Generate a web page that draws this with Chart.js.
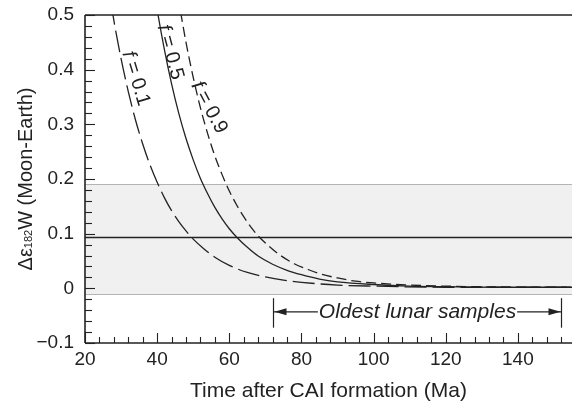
<!DOCTYPE html>
<html>
<head>
<meta charset="utf-8">
<script src="https://cdn.jsdelivr.net/npm/chart.js@4.4.1/dist/chart.umd.min.js"></script>
<style>
  html, body { margin: 0; padding: 0; background: #fff; }
</style>
</head>
<body>
<canvas id="chart" width="572" height="407"></canvas>
<script>
// ── Model curves: time after CAI formation (Ma) vs Δε182W (Moon-Earth) ──
const timeF01 = [26, 28, 30, 32, 34, 36, 38, 40, 42, 44, 46, 48, 50, 53, 56, 60, 65, 70, 75, 80, 90, 100, 120, 155];
const valF01  = [0.573, 0.490, 0.420, 0.360, 0.308, 0.264, 0.226, 0.194, 0.166, 0.142, 0.122, 0.105, 0.090, 0.072, 0.057, 0.042, 0.029, 0.021, 0.015, 0.011, 0.006, 0.004, 0.002, 0.002];

const timeF05 = [38, 40, 42, 44, 46, 48, 50, 52, 54, 56, 58, 60, 62, 65, 68, 72, 76, 80, 85, 90, 100, 110, 120, 135, 155];
const valF05  = [0.596, 0.510, 0.437, 0.374, 0.320, 0.274, 0.235, 0.201, 0.173, 0.148, 0.127, 0.109, 0.094, 0.075, 0.059, 0.044, 0.033, 0.025, 0.017, 0.012, 0.007, 0.004, 0.003, 0.002, 0.002];

const timeF09 = [44, 46, 48, 50, 52, 54, 56, 58, 60, 62, 64, 66, 68, 71, 74, 78, 82, 86, 90, 95, 100, 110, 120, 135, 155];
const valF09  = [0.614, 0.526, 0.450, 0.386, 0.330, 0.283, 0.242, 0.208, 0.178, 0.153, 0.131, 0.112, 0.096, 0.077, 0.061, 0.045, 0.034, 0.025, 0.019, 0.013, 0.010, 0.006, 0.004, 0.0025, 0.002];

const curveNames = ['0.1', '0.5', '0.9'];

// measured Moon-Earth offset and its uncertainty band
const measuredOffset = 0.093;
const offsetBand = [-0.01, 0.19];

// age span of the oldest lunar samples (Ma after CAI)
const lunarSamples = [72, 152];

// axes
const xRange = [20, 155];
const yRange = [-0.1, 0.5];
const xMinorStep = 4;
const yMinorStep = 0.02;
const xLabelTicks = [20, 40, 60, 80, 100, 120, 140];
const yLabelTicks = [-0.1, 0, 0.1, 0.2, 0.3, 0.4, 0.5];

const INK = '#222';
const FONT = '"Liberation Sans", Arial, Helvetica, sans-serif';

function pairs(xs, ys) {
    return xs.map((x, i) => ({ x, y: ys[i] }));
}

function fmtY(v) {
    if (Math.abs(v) < 1e-9) return '0';
    return (v < 0 ? '\u2212' : '') + Math.abs(v).toFixed(1);
}

function isLabelTick(list, v) {
    return list.some(t => Math.abs(t - v) < 1e-6);
}

// every minor tick between lo and hi
function tickValues(lo, hi, step) {
    const out = [];
    const n = Math.floor((hi - lo) / step + 1e-6);
    for (let i = 0; i <= n; i++) out.push({ value: Math.round((lo + i * step) * 1000) / 1000 });
    return out;
}

// curve label placement (data coords) and slant
const curveLabels = [
    { name: curveNames[0], t: 34.1, v: 0.384, angle: 73 },
    { name: curveNames[1], t: 43.6, v: 0.432, angle: 75 },
    { name: curveNames[2], t: 54.4, v: 0.331, angle: 62 }
];

function line(ctx, x1, y1, x2, y2) {
    ctx.beginPath();
    ctx.moveTo(x1, y1);
    ctx.lineTo(x2, y2);
    ctx.stroke();
}

function arrowHead(ctx, x, y, dir) {
    ctx.beginPath();
    ctx.moveTo(x, y);
    ctx.lineTo(x - dir * 12, y - 3.5);
    ctx.lineTo(x - dir * 12, y + 3.5);
    ctx.closePath();
    ctx.fill();
}

const paperPlugin = {
    id: 'paper',
    beforeDatasetsDraw(chart) {
        const { ctx, chartArea: a, scales: { x, y } } = chart;
        ctx.save();

        // ── uncertainty band ──
        const yt = Math.round(y.getPixelForValue(offsetBand[1])) + 0.5;
        const yb = Math.round(y.getPixelForValue(offsetBand[0])) + 0.5;
        ctx.fillStyle = '#f0f0f0';
        ctx.fillRect(a.left, yt, a.right - a.left, yb - yt);
        ctx.strokeStyle = '#b4b4b4';
        ctx.lineWidth = 1;
        line(ctx, a.left, yt, a.right, yt);
        line(ctx, a.left, yb, a.right, yb);

        // ── measured offset ──
        const ym = y.getPixelForValue(measuredOffset);
        ctx.strokeStyle = INK;
        ctx.lineWidth = 1.4;
        line(ctx, a.left, ym, a.right, ym);

        ctx.restore();
    },
    afterDatasetsDraw(chart) {
        const { ctx, chartArea: a, scales: { x, y } } = chart;
        ctx.save();
        ctx.strokeStyle = INK;
        ctx.fillStyle = INK;

        // ── frame: left, bottom, top ──
        ctx.lineWidth = 1.6;
        line(ctx, a.left, a.top, a.left, a.bottom);
        line(ctx, a.left, a.bottom, a.right, a.bottom);
        line(ctx, a.left, a.top, a.right, a.top);

        // ── inward tick marks ──
        ctx.lineWidth = 1.1;
        x.ticks.forEach(tk => {
            const px = Math.round(x.getPixelForValue(tk.value)) + 0.5;
            const len = isLabelTick(xLabelTicks, tk.value) ? 10 : 6;
            line(ctx, px, a.bottom, px, a.bottom - len);
        });
        y.ticks.forEach(tk => {
            const py = Math.round(y.getPixelForValue(tk.value)) + 0.5;
            const len = isLabelTick(yLabelTicks, tk.value) ? 10 : 7;
            line(ctx, a.left, py, a.left + len, py);
        });

        // ── curve labels ──
        const LBL = 20;
        curveLabels.forEach(lb => {
            const px = x.getPixelForValue(lb.t);
            const py = y.getPixelForValue(lb.v);
            const fFont = `italic ${LBL}px ${FONT}`;
            const nFont = `${LBL}px ${FONT}`;
            const rest = ' = ' + lb.name;
            ctx.font = fFont;
            const wf = ctx.measureText('f').width;
            ctx.font = nFont;
            const wr = ctx.measureText(rest).width;
            ctx.save();
            ctx.translate(px, py);
            ctx.rotate(lb.angle * Math.PI / 180);
            ctx.textBaseline = 'middle';
            ctx.textAlign = 'left';
            const x0 = -(wf + wr) / 2;
            ctx.font = fFont;
            ctx.fillText('f', x0, 0);
            ctx.font = nFont;
            ctx.fillText(rest, x0 + wf, 0);
            ctx.restore();
        });

        // ── oldest lunar samples range ──
        const xl = Math.round(x.getPixelForValue(lunarSamples[0])) + 0.5;
        const xr = Math.round(x.getPixelForValue(lunarSamples[1])) + 0.5;
        const yTop = y.getPixelForValue(-0.018);
        const yBot = y.getPixelForValue(-0.072);
        const yArr = y.getPixelForValue(-0.043);
        ctx.lineWidth = 1.2;
        line(ctx, xl, yTop, xl, yBot);
        line(ctx, xr, yTop, xr, yBot);
        ctx.font = `italic 21px ${FONT}`;
        const label = 'Oldest lunar samples';
        const tw = ctx.measureText(label).width;
        const xc = (xl + xr) / 2;
        ctx.textAlign = 'center';
        ctx.textBaseline = 'middle';
        ctx.fillText(label, xc, yArr);
        line(ctx, xl, yArr, xc - tw / 2 - 1, yArr);
        line(ctx, xc + tw / 2 + 1, yArr, xr, yArr);
        arrowHead(ctx, xl + 1, yArr, -1);
        arrowHead(ctx, xr - 1, yArr, 1);

        // ── y axis title with subscript mass number ──
        const parts = [
            { t: '\u0394\u03b5', size: 20, dy: 0 },
            { t: '182', size: 11, dy: 3 },
            { t: 'W (Moon-Earth)', size: 20, dy: 0 }
        ];
        let total = 0;
        parts.forEach(p => {
            ctx.font = `${p.size}px ${FONT}`;
            p.w = ctx.measureText(p.t).width;
            total += p.w;
        });
        ctx.save();
        ctx.translate(26, 179);
        ctx.rotate(-Math.PI / 2);
        ctx.textAlign = 'left';
        ctx.textBaseline = 'middle';
        let cx = -total / 2;
        parts.forEach(p => {
            ctx.font = `${p.size}px ${FONT}`;
            ctx.fillText(p.t, cx, p.dy);
            cx += p.w;
        });
        ctx.restore();

        ctx.restore();
    }
};

const curveStyle = {
    borderColor: INK,
    borderWidth: 1.3,
    pointRadius: 0,
    fill: false,
    showLine: true,
    cubicInterpolationMode: 'monotone'
};

new Chart(document.getElementById('chart'), {
    type: 'scatter',
    data: {
        datasets: [
            { ...curveStyle, label: 'f = ' + curveNames[0], data: pairs(timeF01, valF01), borderDash: [22, 6] },
            { ...curveStyle, label: 'f = ' + curveNames[1], data: pairs(timeF05, valF05) },
            { ...curveStyle, label: 'f = ' + curveNames[2], data: pairs(timeF09, valF09), borderDash: [10, 5] }
        ]
    },
    options: {
        responsive: false,
        animation: false,
        devicePixelRatio: 1,
        layout: { padding: { top: 15, right: 0, left: 0, bottom: 0 } },
        plugins: { legend: { display: false }, tooltip: { enabled: false } },
        scales: {
            x: {
                type: 'linear',
                min: xRange[0],
                max: xRange[1],
                afterBuildTicks: s => { s.ticks = tickValues(xRange[0], xRange[1], xMinorStep); },
                afterFit: s => { s.height = 64; s.paddingLeft = 0; s.paddingRight = 0; },
                grid: { display: false, drawTicks: false },
                border: { display: false },
                ticks: {
                    autoSkip: false,
                    maxRotation: 0,
                    padding: 5,
                    color: INK,
                    font: { family: FONT, size: 19 },
                    callback: v => isLabelTick(xLabelTicks, v) ? String(Math.round(v)) : ''
                },
                title: {
                    display: true,
                    text: 'Time after CAI formation (Ma)',
                    color: INK,
                    font: { family: FONT, size: 21 },
                    padding: { top: 0, bottom: 3 }
                }
            },
            y: {
                min: yRange[0],
                max: yRange[1],
                afterBuildTicks: s => { s.ticks = tickValues(yRange[0], yRange[1], yMinorStep); },
                afterFit: s => { s.width = 85; s.paddingTop = 0; s.paddingBottom = 0; },
                grid: { display: false, drawTicks: false },
                border: { display: false },
                ticks: {
                    autoSkip: false,
                    padding: 11,
                    color: INK,
                    font: { family: FONT, size: 19 },
                    callback: v => isLabelTick(yLabelTicks, v) ? fmtY(v) : ''
                }
            }
        }
    },
    plugins: [paperPlugin]
});
</script>
</body>
</html>
